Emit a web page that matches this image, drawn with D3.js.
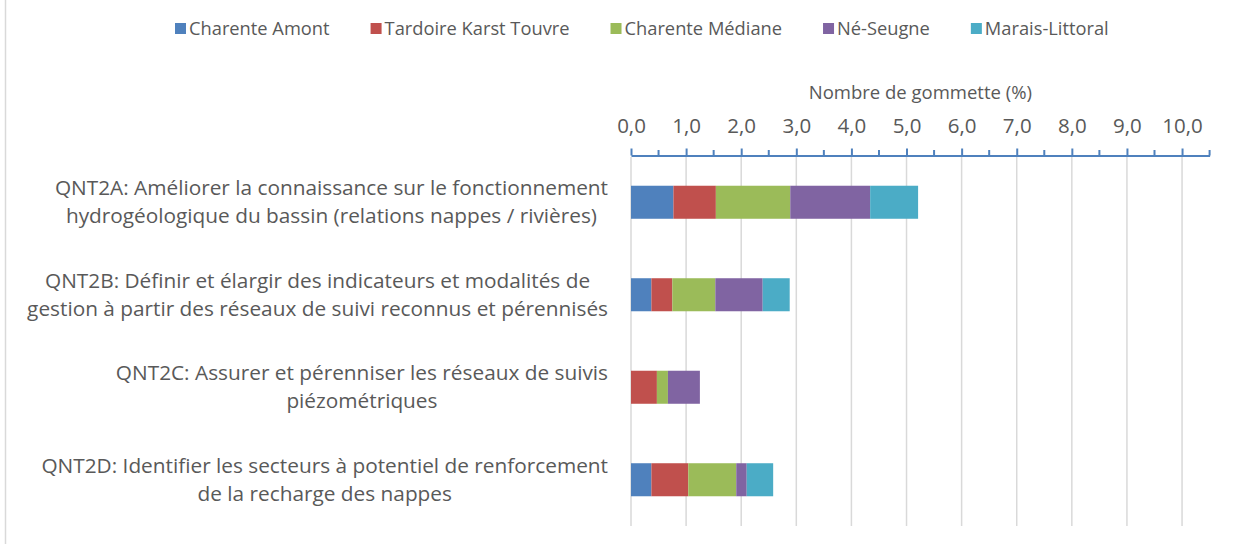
<!DOCTYPE html>
<html><head><meta charset="utf-8">
<script src="https://cdn.jsdelivr.net/npm/d3@7"></script>
<style>
html,body{margin:0;padding:0;background:#fff;}
text{font-family:"Open Sans",sans-serif;fill:#595959;}
</style></head>
<body><svg id="c" width="1245" height="544"></svg>
<script>
const categories = ["QNT2A","QNT2B","QNT2C","QNT2D"];
const categoryLabels = [
  ["QNT2A: Améliorer la connaissance sur le fonctionnement","hydrogéologique du bassin (relations nappes / rivières)"],
  ["QNT2B: Définir et élargir des indicateurs et modalités de","gestion à partir des réseaux de suivi reconnus et pérennisés"],
  ["QNT2C: Assurer et pérenniser les réseaux de suivis","piézométriques"],
  ["QNT2D: Identifier les secteurs à potentiel de renforcement","de la recharge des nappes"]
];
const seriesNames = ["Charente Amont","Tardoire Karst Touvre","Charente Médiane","Né-Seugne","Marais-Littoral"];
const seriesColors = ["#4F81BD","#C0504D","#9BBB59","#8064A2","#4BACC6"];
const charenteAmont   = [0.77, 0.37, 0.00, 0.37];
const tardoireKarst   = [0.77, 0.38, 0.47, 0.67];
const charenteMediane = [1.35, 0.78, 0.20, 0.87];
const neSeugne        = [1.45, 0.86, 0.58, 0.19];
const maraisLittoral  = [0.87, 0.49, 0.00, 0.48];
const tickValues = [0,1,2,3,4,5,6,7,8,9,10];
const axisTitle = "Nombre de gommette (%)";

const seriesValues = [charenteAmont, tardoireKarst, charenteMediane, neSeugne, maraisLittoral];
const rows = categories.map((c,i)=>{const o={cat:c}; seriesNames.forEach((s,j)=>o[s]=seriesValues[j][i]); return o;});
const stack = d3.stack().keys(seriesNames)(rows);

const svg = d3.select("#c");
svg.append("line").attr("x1",5.5).attr("x2",5.5).attr("y1",0).attr("y2",544).attr("stroke","#d9d9d9").attr("stroke-width",1.5);

const x = d3.scaleLinear().domain([0,10.5]).range([631,1209.6]);
const y = d3.scaleBand().domain(categories).range([156,526]).paddingInner(0.643).paddingOuter(0.3215);

svg.append("g").selectAll("line").data(tickValues).join("line")
  .attr("x1",d=>x(d)).attr("x2",d=>x(d)).attr("y1",157).attr("y2",526)
  .attr("stroke","#d9d9d9").attr("stroke-width",1.5);

svg.append("g").selectAll("g").data(stack).join("g")
  .attr("fill",(d,i)=>seriesColors[i])
  .selectAll("rect").data(d=>d).join("rect")
  .attr("x",d=>x(d[0])).attr("width",d=>x(d[1])-x(d[0]))
  .attr("y",d=>y(d.data.cat)).attr("height",y.bandwidth());

const fmt = v=>d3.format(".1f")(v).replace(".",",");
const axG = svg.append("g").attr("transform","translate(0,155.5)");
axG.call(d3.axisTop(x).tickValues(tickValues).tickSizeInner(7).tickSizeOuter(0).tickPadding(16).tickFormat(fmt));
axG.select(".domain").attr("stroke","#4F81BD").attr("stroke-width",2);
axG.selectAll(".tick line").attr("stroke","#4F81BD").attr("stroke-width",2);
axG.selectAll(".tick text").attr("font-size",20.5).attr("font-family","'Open Sans',sans-serif").attr("fill","#595959");
const minor = d3.range(0.5,10.6,1);
svg.append("g").selectAll("line").data(minor).join("line")
  .attr("x1",d=>x(d)).attr("x2",d=>x(d)).attr("y1",150).attr("y2",155.5)
  .attr("stroke","#4F81BD").attr("stroke-width",2);

svg.append("text").attr("x",(x(0)+x(10.5))/2).attr("y",98.5).attr("text-anchor","middle")
  .attr("font-size",18.5).text(axisTitle);

categories.forEach((c,i)=>{
  const cy = y(c)+y.bandwidth()/2;
  const t = svg.append("text").attr("font-size",20.8).attr("text-anchor","middle");
  categoryLabels[i].forEach((ln,k)=>{
    t.append("tspan").attr("x",0).attr("y",cy-14+k*28+7).text(ln);
  });
  const w = d3.max(t.selectAll("tspan").nodes(),n=>n.getComputedTextLength());
  t.attr("transform",`translate(${608-w/2},0)`);
});

const lg = svg.append("g");
let lx = 175;
seriesNames.forEach((s,i)=>{
  lg.append("rect").attr("x",lx).attr("y",23).attr("width",11).attr("height",11).attr("fill",seriesColors[i]);
  const t = lg.append("text").attr("x",lx+14).attr("y",35).attr("font-size",18.3).text(s);
  lx += 14 + t.node().getComputedTextLength() + 41;
});
</script></body></html>
